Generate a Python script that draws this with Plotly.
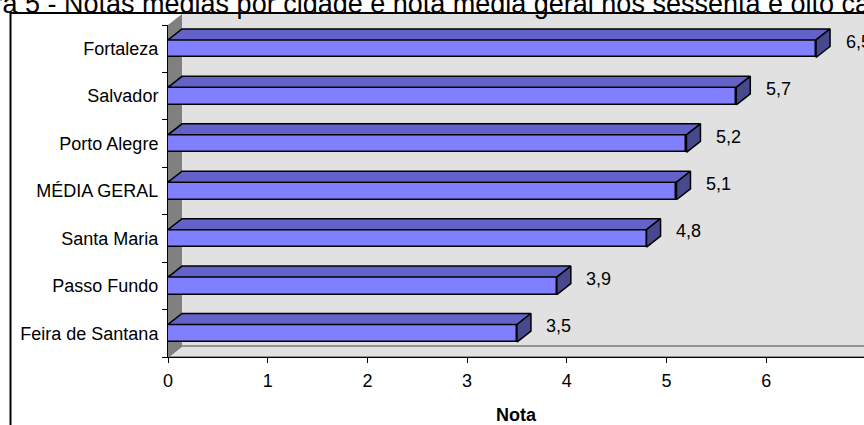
import plotly.graph_objects as go

# ---- data ---------------------------------------------------------------
cities = ["Feira de Santana", "Passo Fundo", "Santa Maria", "MÉDIA GERAL",
          "Porto Alegre", "Salvador", "Fortaleza"]
notas = [3.5, 3.9, 4.8, 5.1, 5.2, 5.7, 6.5]
x_tick_values = [0, 1, 2, 3, 4, 5, 6, 7]
x_axis_title = "Nota"
chart_title = ("Figura 5 - Notas médias por cidade e nota média geral "
               "nos sessenta e oito casos")

# ---- geometry -----------------------------------------------------------
W, H = 864, 425
M_L, M_R, M_T, M_B = 168, 0, 25, 68
PW, PH = W - M_L - M_R, H - M_T - M_B
X_SCALE = 99.7                      # pixels per unit of "Nota"
X_MAX = PW / X_SCALE
N = len(cities)
SLOT = PH / N                       # pixels per category
DEPTH_X, DEPTH_Y = 14, 11           # 3-D depth offset in pixels
BAR_W = 0.37

dx = DEPTH_X / X_SCALE
dy = DEPTH_Y / SLOT

FONT = "Liberation Sans, Arial, sans-serif"
FS = 18

FRONT = "#8080FF"
TOP = "#6262C8"
SIDE = "#48488F"
WALL = "#E1E1E1"
WALL_DARK = "#808080"


def px(x):
    """pixel x -> paper x"""
    return (x - M_L) / PW


def py(y):
    """pixel y -> paper y"""
    return (H - M_B - y) / PH


def path(points):
    return "M " + " L ".join(f"{a:.5f},{b:.5f}" for a, b in points) + " Z"


fig = go.Figure()

# front faces
fig.add_trace(go.Bar(
    x=notas, y=list(range(N)), orientation="h", width=BAR_W,
    marker=dict(color=FRONT, line=dict(color="black", width=1.5)),
    hoverinfo="skip", showlegend=False,
))

# top and side faces of the 3-D bars
top_x, top_y, side_x, side_y = [], [], [], []
for i, v in enumerate(notas):
    yt, yb = i + BAR_W / 2, i - BAR_W / 2
    top_x += [0, v, v + dx, dx, 0, None]
    top_y += [yt, yt, yt + dy, yt + dy, yt, None]
    side_x += [v, v + dx, v + dx, v, v, None]
    side_y += [yb, yb + dy, yt + dy, yt, yb, None]

fig.add_trace(go.Scatter(
    x=top_x, y=top_y, mode="lines", fill="toself", fillcolor=TOP,
    line=dict(color="black", width=1.5), hoverinfo="skip", showlegend=False,
))
fig.add_trace(go.Scatter(
    x=side_x, y=side_y, mode="lines", fill="toself", fillcolor=SIDE,
    line=dict(color="black", width=1.5), hoverinfo="skip", showlegend=False,
))

# value labels
for i, v in enumerate(notas):
    fig.add_annotation(
        x=v, y=i, xref="x", yref="y", text=f"{v:.1f}".replace(".", ","),
        showarrow=False, xshift=42, yshift=7,
        font=dict(family=FONT, size=FS, color="black"),
    )

# chart title (runs past the page edges)
fig.add_annotation(
    x=px(-61), y=py(3.5), xref="paper", yref="paper", xanchor="left",
    yanchor="middle", text=chart_title, showarrow=False,
    font=dict(family=FONT, size=27, color="black"),
)

# walls, floor and outer frame
x_far = W + 10
shapes = [
    dict(type="path", xref="paper", yref="paper", layer="below",
         path=path([(px(M_L + DEPTH_X), py(M_T - DEPTH_Y)),
                    (px(x_far), py(M_T - DEPTH_Y)),
                    (px(x_far), py(H - M_B - DEPTH_Y)),
                    (px(M_L + DEPTH_X), py(H - M_B - DEPTH_Y))]),
         fillcolor=WALL, line=dict(width=0)),
    dict(type="path", xref="paper", yref="paper", layer="below",
         path=path([(px(M_L), py(M_T)),
                    (px(M_L + DEPTH_X), py(M_T - DEPTH_Y)),
                    (px(M_L + DEPTH_X), py(H - M_B - DEPTH_Y)),
                    (px(M_L), py(H - M_B))]),
         fillcolor=WALL_DARK, line=dict(width=0)),
    dict(type="path", xref="paper", yref="paper", layer="below",
         path=path([(px(M_L), py(H - M_B)),
                    (px(M_L + DEPTH_X), py(H - M_B - DEPTH_Y)),
                    (px(x_far), py(H - M_B - DEPTH_Y)),
                    (px(x_far), py(H - M_B))]),
         fillcolor=WALL, line=dict(color="#7A7A7A", width=1.5)),
    dict(type="line", xref="paper", yref="paper", layer="above",
         x0=px(10), x1=px(x_far), y0=py(13), y1=py(13),
         line=dict(color="black", width=2)),
    dict(type="line", xref="paper", yref="paper", layer="above",
         x0=px(10.5), x1=px(10.5), y0=py(12), y1=py(H + 10),
         line=dict(color="black", width=2)),
]
fig.update_layout(shapes=shapes)

fig.update_xaxes(
    range=[0, X_MAX], tickvals=x_tick_values, ticks="outside", ticklen=5,
    tickcolor="black", showline=True, linecolor="black", linewidth=1,
    showgrid=False, zeroline=False, ticklabelstandoff=2,
    tickfont=dict(family=FONT, size=FS, color="black"),
    title=dict(text=f"<b>{x_axis_title}</b>", standoff=20,
               font=dict(family=FONT, size=FS, color="black")),
)
fig.update_yaxes(
    range=[-0.5, N - 0.5], tickvals=list(range(N)), ticktext=cities,
    ticks="outside", ticklen=5, tickcolor="rgba(0,0,0,0)",
    minor=dict(tickvals=[k - 0.5 for k in range(N + 1)], ticks="outside",
               ticklen=5, tickcolor="black", tickwidth=1),
    showline=True, linecolor="black", linewidth=1,
    showgrid=False, zeroline=False,
    tickfont=dict(family=FONT, size=FS, color="black"),
)

fig.update_layout(
    width=W, height=H, autosize=False,
    margin=dict(l=M_L, r=M_R, t=M_T, b=M_B, pad=0),
    paper_bgcolor="white", plot_bgcolor="rgba(0,0,0,0)",
    bargap=0, showlegend=False,
)

fig.write_html("out.html")
